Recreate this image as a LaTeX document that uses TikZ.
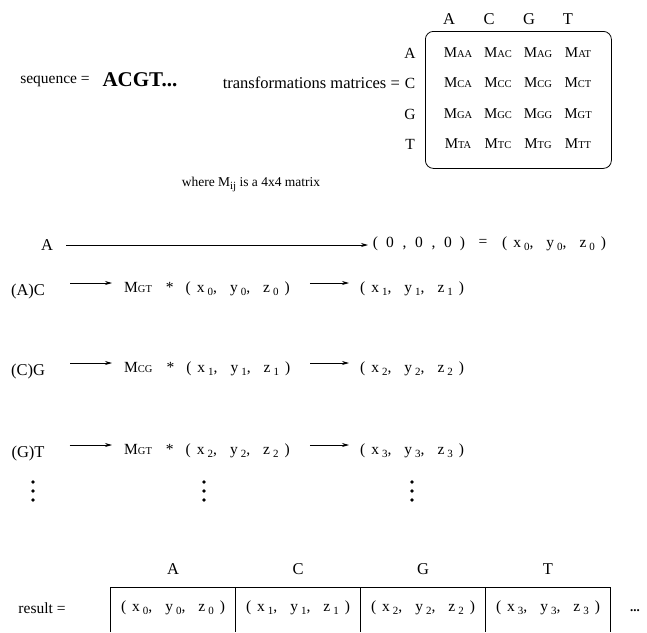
\documentclass[tikz,border=0pt]{standalone}
\usepackage{fontspec}
\setmainfont{Liberation Serif}
\usetikzlibrary{arrows.meta}
\newcommand\sbs[1]{\raisebox{-3pt}{\fontsize{11}{11}\selectfont #1}}
\newcommand\Mx[1]{M{\fontsize{10.5}{10.5}\selectfont #1}}
\newcommand\tup[1]{(\hspace{6pt}x\hspace{3pt}\sbs{#1},\hspace{13pt}y\hspace{3pt}\sbs{#1},\hspace{13pt}z\hspace{3pt}\sbs{#1}\hspace{6pt})}
\newcommand\zbox[1]{\makebox[14.5pt]{#1}}
\begin{document}
\begin{tikzpicture}[x=1pt,y=-1pt,
  every node/.style={inner sep=0pt},
  lab/.style={font=\fontsize{15.5}{15.5}\selectfont},
  big/.style={font=\fontsize{16.5}{16.5}\selectfont},
  tupf/.style={font=\fontsize{15.5}{15.5}\selectfont},
  ent/.style={font=\fontsize{15}{15}\selectfont},
  arr/.style={-{Stealth[length=7pt,width=4pt]}, line width=0.7pt},
  dotn/.style={circle, fill, inner sep=1.3pt},
  line/.style={line width=0.8pt}]
\useasboundingbox (0,0) rectangle (647,632);

% top line
\node[lab] (seq) at (55,81) {sequence =};
\node[font=\bfseries\fontsize{21}{21}\selectfont] (acgt) at (140,80) {ACGT...};
\node[lab,anchor=east,font=\fontsize{16.5}{16.5}\selectfont] (tm) at (400,83) {transformations matrices =};

% matrix
\node[line,draw, rounded corners=8pt, minimum width=186pt, minimum height=137pt, anchor=north west] (box) at (425,31) {};
\foreach \c/\x in {A/449,C/489,G/529,T/568}{
  \node[big] (h\c) at (\x,19) {\c};
}
\foreach \r/\y in {A/53,C/83,G/114,T/144}{
  \node[lab] (r\r) at (410,\y) {\r};
  \foreach \c/\x in {A/458,C/498,G/538,T/578}{
    \node[ent] (m\r\c) at (\x,\y) {\Mx{\r\c}};
  }
}
\node[font=\fontsize{13.5}{13.5}\selectfont] (where) at (251,184) {where M\sbs{ij} is a 4x4 matrix};

% A row
\node[big] (a0) at (47,245) {A};
\node[tupf,anchor=west] (zero) at (368,244) {\zbox{(}\zbox{0}\zbox{,}\zbox{0}\zbox{,}\zbox{0}\zbox{)}};
\node[tupf] (eq) at (483,243) {=};
\node[tupf,anchor=west] (t0) at (502,244) {\tup0};
\draw[arr, shorten <=13pt, shorten >=0pt] (a0.east) -- (a0.east -| zero.west);

% iteration rows
\foreach \i/\lab/\m/\p/\q/\y in {1/(A)C/GT/0/1/289, 2/(C)G/CG/1/2/369, 3/(G)T/GT/2/3/451}{
  \node[big] (l\i) at (28,\y+3) {\lab};
  \node[tupf,anchor=west] (e\i) at (124,\y) {\Mx{\m}\hspace{14pt}*\hspace{12pt}\tup{\p}};
  \node[tupf,anchor=west] (o\i) at (360,\y) {\tup{\q}};
  \draw[arr, shorten <=25pt, shorten >=12pt] ([yshift=6pt]l\i.east |- e\i.west) -- ([yshift=6pt]e\i.west);
  \draw[arr, shorten <=20pt, shorten >=11pt] ([yshift=6pt]e\i.east) -- ([yshift=6pt]o\i.west);
}

% dots
\foreach \k/\x in {1/33,2/204,3/412}{
  \node[dotn] (d\k a) at (\x,482) {};
  \node[dotn] (d\k b) at (\x,491) {};
  \node[dotn] (d\k c) at (\x,500) {};
}

% result table
\foreach \c/\x in {A/173,C/298,G/423,T/548}{
  \node[big] (b\c) at (\x,569) {\c};
}
\draw[line] (110,632) -- (110,587) -- (610,587) -- (610,632);
\foreach \x in {235,360,485}{ \draw[line] (\x,587) -- (\x,632); }
\node[lab] (res) at (42,608) {result =};
\foreach \k/\x in {0/173,1/298,2/423,3/548}{
  \node[tupf] (c\k) at (\x,608) {\tup{\k}};
}
\node[font=\bfseries\fontsize{13}{13}\selectfont] (more) at (635,611) {...};
\end{tikzpicture}
\end{document}
